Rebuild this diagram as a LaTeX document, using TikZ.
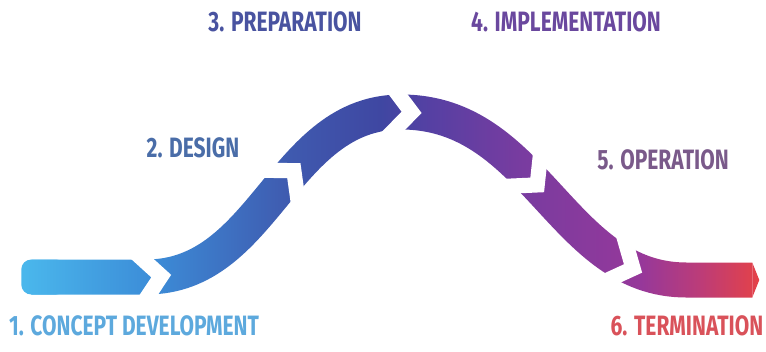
\documentclass[tikz,border=0pt]{standalone}
\usepackage{fontspec}
\newfontfamily\stagefont[FakeStretch=0.75]{Fira Sans}
\usetikzlibrary{decorations.markings, fadings}

\definecolor{cycA}{HTML}{4AB7EC}
\definecolor{cycB}{HTML}{3C8DD8}
\definecolor{cycC}{HTML}{3F5AAF}
\definecolor{cycD}{HTML}{3F47A2}
\definecolor{cycE}{HTML}{5640A3}
\definecolor{cycF}{HTML}{783CA0}
\definecolor{cycG}{HTML}{96389A}
\definecolor{cycH}{HTML}{BC3C78}
\definecolor{cycI}{HTML}{E54247}

\definecolor{lblA}{HTML}{5DA9DD}
\definecolor{lblB}{HTML}{4A6DA8}
\definecolor{lblC}{HTML}{4953A0}
\definecolor{lblD}{HTML}{6A489E}
\definecolor{lblE}{HTML}{7A5A8A}
\definecolor{lblF}{HTML}{D9525A}

% left to right colour run of the band (25bp..75bp covers the picture)
\pgfdeclarehorizontalshading{lifecycle}{100bp}{
  color(0bp)=(cycA); color(26.6bp)=(cycA); color(34.8bp)=(cycB);
  color(43.9bp)=(cycC); color(49.8bp)=(cycD); color(53.1bp)=(cycE);
  color(58.9bp)=(cycF); color(66.8bp)=(cycG); color(70.7bp)=(cycH);
  color(74.6bp)=(cycI); color(100bp)=(cycI)}

\tikzset{
  stage/.style={font=\stagefont\bfseries\fontsize{28}{30}\selectfont, inner sep=0pt},
  % chevron shaped cut between two steps
  cut at/.style={postaction={decorate, decoration={markings,
    mark=at position #1 with {\fill[transparent!100] (-28.9,22) -- (-10,0) -- (-28.9,-22)
      -- (-8.9,-22) -- (10,0) -- (-8.9,22) -- cycle;}}}}
}

\begin{tikzfadingfrompicture}[name=band, x=1pt, y=-1pt]
  \path (0,0) rectangle (766,351);
  \coordinate (A) at (35,277);
  \coordinate (B) at (150,277);
  \coordinate (C) at (405,112);
  \coordinate (D) at (690,280);
  \coordinate (E) at (756,280);
  \fill[transparent!0, rounded corners=10pt] (25,259.5) rectangle (70,294.5);
  \fill[transparent!0] (756,262.5) -- (763,280) -- (756,297.5) -- cycle;
  \draw[transparent!0, line width=35pt,
    cut at=130pt, cut at=304pt, cut at=441pt, cut at=590pt, cut at=718pt]
    (A) -- (B) .. controls +(119,0) and +(-119,0) .. (C)
    .. controls +(135,0) and +(-125,0) .. (D) -- (E);
\end{tikzfadingfrompicture}

\begin{document}
\begin{tikzpicture}[x=1pt, y=-1pt]
  \useasboundingbox (0,0) rectangle (766,351);
  \shade[shading=lifecycle, path fading=band, fit fading=false,
    fading transform={shift={(383,175.5)}}] (0,0) rectangle (766,351);

  \node[stage, text=lblA] (concept) at (134,326) {1. CONCEPT DEVELOPMENT};
  \node[stage, text=lblB] (design) at (193,148) {2. DESIGN};
  \node[stage, text=lblC] (prep) at (285,22) {3. PREPARATION};
  \node[stage, text=lblD] (impl) at (566,22) {4. IMPLEMENTATION};
  \node[stage, text=lblE] (oper) at (663,160) {5. OPERATION};
  \node[stage, text=lblF] (term) at (687,326) {6. TERMINATION};
\end{tikzpicture}
\end{document}
